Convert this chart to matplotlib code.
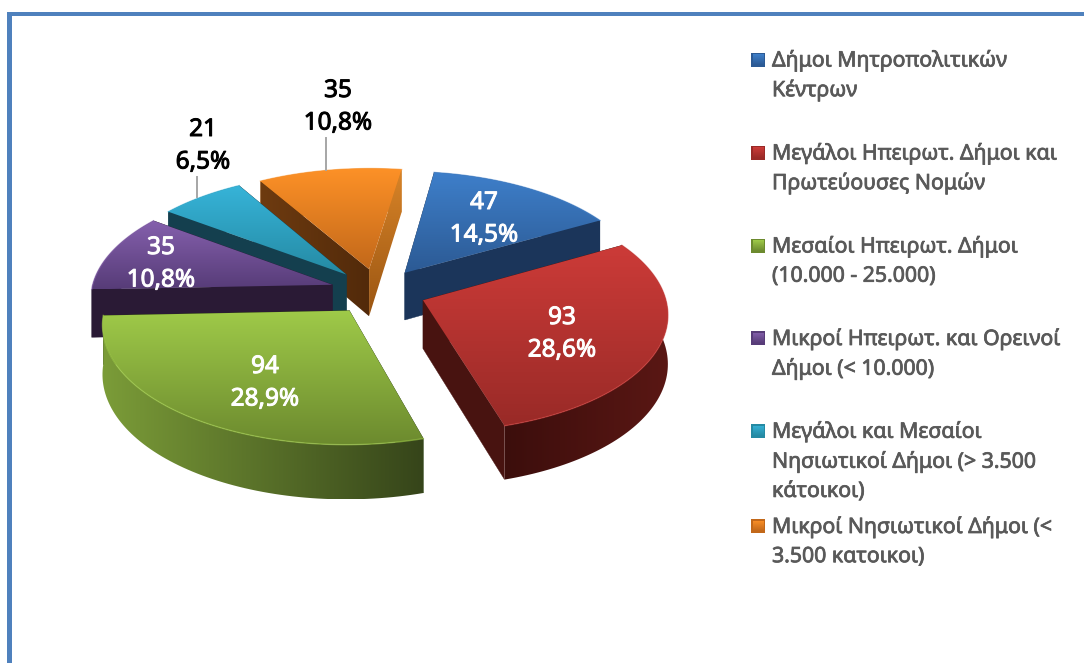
import numpy as np
import matplotlib
matplotlib.use("Agg")
import matplotlib.pyplot as plt
import matplotlib.patheffects as pe
from matplotlib.patches import Polygon, Rectangle
from matplotlib.colors import to_rgb

values = [47, 93, 94, 35, 21, 35]
legend_labels = [
    "Δήμοι Μητροπολιτικών\nΚέντρων",
    "Μεγάλοι Ηπειρωτ. Δήμοι και\nΠρωτεύουσες Νομών",
    "Μεσαίοι Ηπειρωτ. Δήμοι\n(10.000 - 25.000)",
    "Μικροί Ηπειρωτ. και Ορεινοί\nΔήμοι (< 10.000)",
    "Μεγάλοι και Μεσαίοι\nΝησιωτικοί Δήμοι (> 3.500\nκάτοικοι)",
    "Μικροί Νησιωτικοί Δήμοι (<\n3.500 κατοικοι)",
]
top_light = ["#3e7fca", "#cc3b38", "#9fca49", "#8560ad", "#36b3d8", "#fd9127"]
top_dark = ["#2c5a94", "#992a27", "#6c8a2e", "#573c78", "#258aa3", "#c2681a"]
wall_colors = ["#1b355a", "#481310", "#2b4010", "#2a1a35", "#143f4e", "#5e300d"]
arc_from = ["#1b355a", "#3c0e0c", "#7b9c38", "#2a1a35", "#143f4e", "#b96e1f"]
arc_to = ["#1b355a", "#5a1714", "#36451a", "#2a1a35", "#143f4e", "#c97b24"]
label_pos = [(484, 203), (562, 318), (265, 367), (161, 248), (203, 130), (338, 91)]
label_colors = ["white", "white", "white", "white", "black", "black"]
leaders = [(4, 197, 177, 197), (5, 326, 138, 170)]
legend_y = [60.5, 153.5, 246.5, 339, 432, 527]

START = 8.5
EXPLODE = 0.2
CX, CY, R, K, P, DEPTH = 378, 291.5, 241, 0.48, 0.105, 48
FONT = "Noto Sans"
draw_order = [5, 0, 4, 3, 1, 2]

fig = plt.figure(figsize=(10.84, 6.63), dpi=100, facecolor="white")
ax = fig.add_axes([0, 0, 1, 1])
ax.set_xlim(0, 1084)
ax.set_ylim(663, 0)
ax.axis("off")

ax.add_patch(Rectangle((7, 12), 4.5, 660, fc="#4f81bd", ec="none", zorder=1))
ax.add_patch(Rectangle((7, 12), 1090, 4, fc="#4f81bd", ec="none", zorder=1))


def project(ex, ey, z=0.0):
    s = 1 / (1 + P * ey)
    return CX + R * ex * s, CY - R * K * ey * s + DEPTH * z * s


total = sum(values)
edges = START + np.cumsum([0] + values) / total * 360


def lerp(c0, c1, n):
    a, b = np.array(to_rgb(c0)), np.array(to_rgb(c1))
    return a + (b - a) * np.linspace(0, 1, n)[:, None]


def gradient(poly, c0, c1, zorder, vertical=True):
    xs, ys = poly[:, 0], poly[:, 1]
    grad = lerp(c0, c1, 128)
    img = grad[:, None, :] if vertical else grad[None, :, :]
    im = ax.imshow(img, extent=(xs.min(), xs.max(), ys.max(), ys.min()),
                   aspect="auto", zorder=zorder, interpolation="bilinear")
    clip = Polygon(poly, closed=True, transform=ax.transData, fc="none", ec="none")
    ax.add_patch(clip)
    im.set_clip_path(clip)


def heavy(text, color, width):
    text.set_path_effects([pe.withStroke(linewidth=width, foreground=color)])


zo = 2.0
for i in draw_order:
    a0, a1 = np.radians(edges[i]), np.radians(edges[i + 1])
    mid = (a0 + a1) / 2
    ox, oy = EXPLODE * np.sin(mid), EXPLODE * np.cos(mid)
    ts = np.linspace(a0, a1, 80)
    ax_pts = np.array(project(ox + np.sin(ts), oy + np.cos(ts))).T
    bt_pts = np.array(project(ox + np.sin(ts), oy + np.cos(ts), 1)).T
    apex = np.array(project(ox, oy))
    apex_b = np.array(project(ox, oy, 1))
    rim = np.vstack([ax_pts, bt_pts[::-1]])

    def draw_rim():
        global zo
        gradient(rim, arc_from[i], arc_to[i], zo, vertical=False)
        zo += 0.01

    rim_first = np.cos(mid) > 0
    if rim_first:
        draw_rim()
    for j in (0, -1):
        wall = np.array([apex, ax_pts[j], bt_pts[j], apex_b])
        if i == 5 and j == -1:
            gradient(wall, "#d88428", "#9a5512", zo, vertical=True)
        elif i == 5:
            gradient(wall, "#6e3b10", "#522a0a", zo, vertical=False)
        else:
            ax.add_patch(Polygon(wall, closed=True, fc=wall_colors[i],
                                 ec=wall_colors[i], lw=0.3, zorder=zo))
        zo += 0.01
    if not rim_first:
        draw_rim()
    top = np.vstack([apex, ax_pts])
    gradient(top, top_light[i], top_dark[i], zo)
    zo += 0.01
    ax.plot(ax_pts[:, 0], ax_pts[:, 1], color=top_light[i], lw=1.0, alpha=0.6, zorder=zo)
    zo += 0.01

for i, x, y0, y1 in leaders:
    ax.plot([x, x], [y0, y1], color="#a6a6a6", lw=1.4, zorder=20)

for v, (x, y), c in zip(values, label_pos, label_colors):
    pct = f"{v / total * 100:.1f}".replace(".", ",") + "%"
    for yy, s in ((y, str(v)), (y + 32.5, pct)):
        t = ax.text(x, yy, s, color=c, ha="center", va="center", fontsize=17.5,
                    family=FONT, zorder=21)
        heavy(t, c, 0.7)

for i, (lab, y) in enumerate(zip(legend_labels, legend_y)):
    ax.add_patch(Rectangle((751, y - 8), 14, 14, fc=top_dark[i], ec="none", zorder=22))
    sq = np.array([[752.5, y - 6.5], [763.5, y - 6.5], [763.5, y + 4.5], [752.5, y + 4.5]], float)
    gradient(sq, top_light[i], top_dark[i], 23)
    for n, line in enumerate(lab.split("\n")):
        t = ax.text(772, y + n * 29.7, line, color="#595959", ha="left", va="center",
                    fontsize=15.3, family=FONT, zorder=24)
        heavy(t, "#595959", 0.55)

fig.savefig("out.png", dpi=100, facecolor="white")
